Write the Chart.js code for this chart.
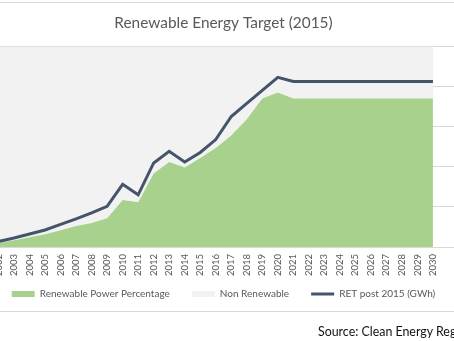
<!DOCTYPE html>
<html>
<head>
<meta charset="utf-8">
<script src="https://cdn.jsdelivr.net/npm/chart.js@4"></script>
<style>
  html, body { margin: 0; padding: 0; background: #fff; overflow: hidden; width: 454px; height: 341px; }
  #frame { position: absolute; left: -30px; top: 2px; width: 512px; height: 308px; border: 1px solid #d9d9d9; }
  #chart { position: absolute; left: -40px; top: 0; }
  #source { position: absolute; left: 318px; top: 324px; font: 12.4px Lato, sans-serif; color: #111; white-space: nowrap; }
</style>
</head>
<body>
<div id="frame"></div>
<canvas id="chart" width="527" height="341"></canvas>
<div id="source">Source: Clean Energy Regulator</div>
<script>
// Data
var YEARS = [2001, 2002, 2003, 2004, 2005, 2006, 2007, 2008, 2009, 2010,
             2011, 2012, 2013, 2014, 2015, 2016, 2017, 2018, 2019, 2020,
             2021, 2022, 2023, 2024, 2025, 2026, 2027, 2028, 2029, 2030];

// Renewable Power Percentage (%)
var RENEWABLE = [0.3, 0.6, 1.0, 1.45, 1.9, 2.5, 3.15, 3.6, 4.3, 7.05,
                 6.7, 11.0, 12.7, 11.9, 13.3, 14.8, 16.7, 19.1, 22.2, 23.1,
                 22.2, 22.2, 22.2, 22.2, 22.2, 22.2, 22.2, 22.2, 22.2, 22.2];

// Non Renewable (%)
var NON_RENEWABLE = [99.7, 99.4, 99.0, 98.55, 98.1, 97.5, 96.85, 96.4, 95.7, 92.95,
                     93.3, 89.0, 87.3, 88.1, 86.7, 85.2, 83.3, 80.9, 77.8, 76.9,
                     77.8, 77.8, 77.8, 77.8, 77.8, 77.8, 77.8, 77.8, 77.8, 77.8];

// RET post 2015 (GWh)
var RET_GWH = [300, 1100, 1800, 2600, 3400, 4500, 5600, 6800, 8100, 12500,
               10400, 16763, 19088, 16950, 18850, 21431, 26031, 28637, 31244, 33850,
               33000, 33000, 33000, 33000, 33000, 33000, 33000, 33000, 33000, 33000];

var GREEN = "#a9d18e",
    GREY = "#f2f2f2",
    NAVY = "#44546a",
    TEXT = "#595959",
    FONT = "Lato";

function pts(values) {
    return YEARS.map(function (y, i) { return { x: y, y: values[i] }; });
}

var ctx = document.getElementById("chart").getContext("2d");
var chart = new Chart(ctx, {
    type: 'line',
    data: {
        datasets: [
            {
                label: 'Renewable Power Percentage',
                data: pts(RENEWABLE),
                yAxisID: 'y',
                backgroundColor: GREEN,
                borderWidth: 0,
                fill: 'origin',
                pointRadius: 0,
                tension: 0,
                order: 1
            },
            {
                label: 'Non Renewable',
                data: pts(NON_RENEWABLE),
                yAxisID: 'y',
                backgroundColor: GREY,
                borderWidth: 0,
                fill: '-1',
                pointRadius: 0,
                tension: 0,
                order: 2
            },
            {
                label: 'RET post 2015 (GWh)',
                data: pts(RET_GWH),
                yAxisID: 'y1',
                borderColor: NAVY,
                borderWidth: 3,
                fill: false,
                pointRadius: 0,
                tension: 0,
                order: 0
            }
        ]
    },
    options: {
        responsive: false,
        animation: false,
        devicePixelRatio: 1,
        layout: { padding: { left: 23, right: 23, top: 0, bottom: 32 } },
        scales: {
            x: {
                type: 'linear',
                min: 2001,
                max: 2032,
                grid: { display: false },
                border: { display: false },
                // labels hang below this box, over the legend's empty top margin
                // (mirror stops the label clipping; negative padding and labelOffset undo its shifts)
                afterFit: function (scale) { scale.height = 20; },
                ticks: {
                    mirror: true,
                    stepSize: 1,
                    autoSkip: false,
                    minRotation: 90,
                    maxRotation: 90,
                    padding: -7,
                    labelOffset: 11.4,
                    color: TEXT,
                    font: { family: FONT, size: 9.5 },
                    callback: function (v) { return v <= 2030 ? String(v) : ''; }
                }
            },
            y: {
                stacked: true,
                min: 0,
                max: 30,
                border: { display: false },
                grid: { color: '#d9d9d9', lineWidth: 1, drawTicks: false },
                ticks: { display: false, stepSize: 6 }
            },
            y1: {
                display: false,
                min: 0,
                max: 40000
            }
        },
        plugins: {
            title: {
                display: true,
                text: 'Renewable Energy Target (2015)',
                color: TEXT,
                font: { family: FONT, size: 15.4, weight: 'normal' },
                padding: { top: 14, bottom: 14 }
            },
            legend: {
                position: 'bottom',
                labels: {
                    usePointStyle: true,
                    pointStyleWidth: 23,
                    boxHeight: 6,
                    padding: 22,
                    color: TEXT,
                    font: { family: FONT, size: 10 },
                    sort: function (a, b) { return a.datasetIndex - b.datasetIndex; },
                    generateLabels: function (c) {
                        return c.data.datasets.map(function (ds, i) {
                            var isLine = i === 2;
                            return {
                                text: ds.label,
                                datasetIndex: i,
                                fillStyle: isLine ? NAVY : ds.backgroundColor,
                                strokeStyle: isLine ? NAVY : ds.backgroundColor,
                                lineWidth: isLine ? 3 : 0,
                                pointStyle: isLine ? 'line' : 'rect',
                                fontColor: TEXT,
                                hidden: false
                            };
                        });
                    }
                }
            },
            tooltip: { enabled: false }
        }
    }
});
</script>
</body>
</html>
